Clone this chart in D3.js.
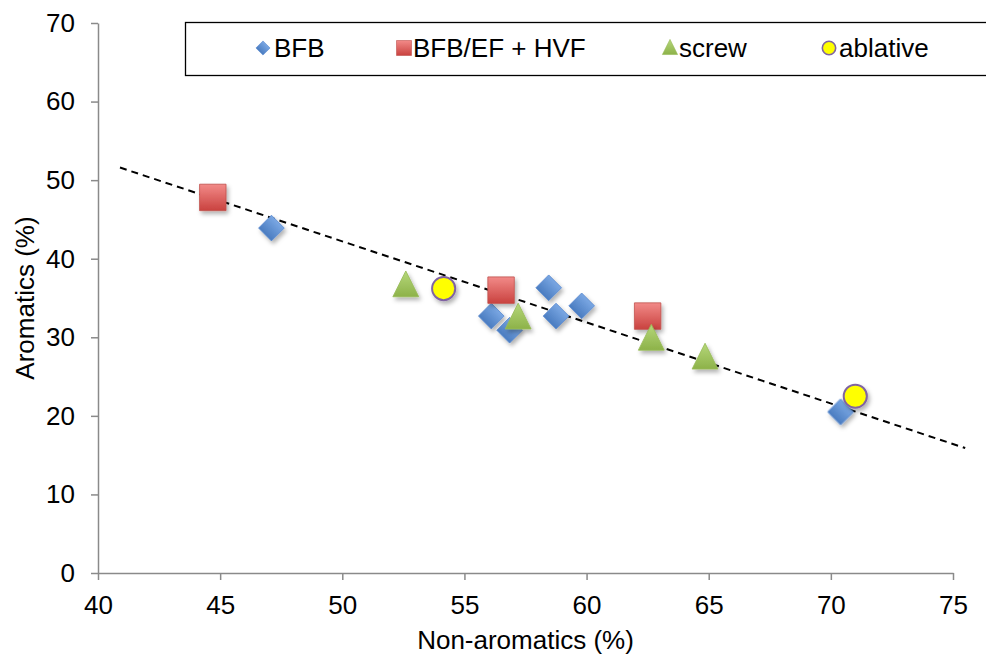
<!DOCTYPE html>
<html>
<head>
<meta charset="utf-8">
<script src="https://cdn.jsdelivr.net/npm/d3@7/dist/d3.min.js"></script>
<style>
  html, body { margin: 0; padding: 0; background: #fff; }
  svg { display: block; font-family: "Liberation Sans", Arial, sans-serif; }
</style>
</head>
<body>
<svg id="chart" width="986" height="656"></svg>
<script>
// Sample series: non-aromatics (%) vs aromatics (%)
const bfbX = [47.1, 56.1, 56.85, 58.45, 58.75, 59.8, 70.4];
const bfbY = [43.9, 32.7, 30.9, 36.3, 32.7, 34.0, 20.5];
const hvfX = [44.7, 56.5, 62.5];
const hvfY = [47.8, 36.0, 32.7];
const screwX = [52.6, 57.2, 62.65, 64.85];
const screwY = [36.8, 32.7, 30.0, 27.6];
const ablativeX = [54.15, 71.0];
const ablativeY = [36.2, 22.5];
// Linear trend line end points
const trendX = [40.9, 75.5];
const trendY = [51.6, 15.9];

const xTicks = [40, 45, 50, 55, 60, 65, 70, 75];
const yTicks = [0, 10, 20, 30, 40, 50, 60, 70];
const seriesNames = ["BFB", "BFB/EF + HVF", "screw", "ablative"];

const svg = d3.select("#chart");
const plotLeft = 98, plotRight = 953, plotTop = 23, plotBottom = 573;
const fontSize = "26px";

const x = d3.scaleLinear().domain([40, 75]).range([plotLeft, plotRight]);
const y = d3.scaleLinear().domain([0, 70]).range([plotBottom, plotTop]);

const defs = svg.append("defs");
const shadow = defs.append("filter").attr("id", "shadow")
  .attr("x", "-50%").attr("y", "-50%").attr("width", "200%").attr("height", "200%");
shadow.append("feDropShadow").attr("dx", 2).attr("dy", 3)
  .attr("stdDeviation", 2).attr("flood-color", "#000").attr("flood-opacity", 0.3);

function grad(id, c1, c2) {
  const g = defs.append("linearGradient").attr("id", id)
    .attr("x1", 0).attr("y1", 0).attr("x2", 0).attr("y2", 1);
  g.append("stop").attr("offset", "0%").attr("stop-color", c1);
  g.append("stop").attr("offset", "100%").attr("stop-color", c2);
}
grad("gBlue", "#7aa7e3", "#4a7cc0");
grad("gRed", "#f28a88", "#c9423f");
grad("gGreen", "#b5d77a", "#8db249");

// Axes
const xAxis = d3.axisBottom(x).tickValues(xTicks).tickSize(7).tickSizeOuter(0).tickPadding(16);
const yAxis = d3.axisLeft(y).tickValues(yTicks).tickSize(7).tickSizeOuter(0).tickPadding(16);

const gx = svg.append("g").attr("transform", `translate(0,${plotBottom})`).call(xAxis);
const gy = svg.append("g").attr("transform", `translate(${plotLeft},0)`).call(yAxis);

[gx, gy].forEach(g => {
  g.select(".domain").attr("stroke", "#8a8a8a").attr("stroke-width", 1.5);
  g.selectAll(".tick line").attr("stroke", "#8a8a8a").attr("stroke-width", 1.5);
  g.selectAll(".tick text").attr("fill", "#000").style("font-size", fontSize)
    .style("font-family", "'Liberation Sans', Arial, sans-serif");
});

// Axis titles
svg.append("text").attr("x", (plotLeft + plotRight) / 2).attr("y", 649)
  .attr("text-anchor", "middle").style("font-size", fontSize).text("Non-aromatics (%)");
svg.append("text").attr("transform", `translate(34,${(plotTop + plotBottom) / 2}) rotate(-90)`)
  .attr("text-anchor", "middle").style("font-size", fontSize).text("Aromatics (%)");

// Trend line
svg.append("line")
  .attr("x1", x(trendX[0])).attr("y1", y(trendY[0]))
  .attr("x2", x(trendX[1])).attr("y2", y(trendY[1]))
  .attr("stroke", "#000").attr("stroke-width", 2).attr("stroke-dasharray", "7,5");

// Marker shapes; triangles are stretched a little taller than equilateral
const triArea = 290, triStretch = 1.15;
const triHalf = Math.sqrt(triArea / (Math.sqrt(3) * 3)); // d3 triangle centroid offset unit
const triShift = triHalf / 2 * triStretch; // moves the bounding-box centre onto the point

const sym = {
  diamond: d3.symbol().type(d3.symbolSquare).size(330),
  square: d3.symbol().type(d3.symbolSquare).size(700),
  triangle: d3.symbol().type(d3.symbolTriangle).size(triArea),
  circle: d3.symbol().type(d3.symbolCircle).size(420)
};

function drawSeries(xs, ys, kind) {
  const g = svg.append("g").attr("filter", "url(#shadow)");
  xs.forEach((xv, i) => {
    const cx = x(xv), cy = y(ys[i]);
    if (kind === "diamond") {
      g.append("path").attr("d", sym.diamond())
        .attr("transform", `translate(${cx},${cy}) rotate(45)`)
        .attr("fill", "url(#gBlue)").attr("stroke", "#5b8ad0").attr("stroke-width", 0.8);
    } else if (kind === "square") {
      g.append("path").attr("d", sym.square())
        .attr("transform", `translate(${cx},${cy})`)
        .attr("fill", "url(#gRed)").attr("stroke", "#c0504d").attr("stroke-width", 0.8);
    } else if (kind === "triangle") {
      g.append("path").attr("d", sym.triangle())
        .attr("transform", `translate(${cx},${cy + triShift}) scale(1,${triStretch})`)
        .attr("fill", "url(#gGreen)").attr("stroke", "#98bb58").attr("stroke-width", 0.8);
    } else {
      g.append("path").attr("d", sym.circle())
        .attr("transform", `translate(${cx},${cy})`)
        .attr("fill", "#ffff00").attr("stroke", "#8064a2").attr("stroke-width", 2);
    }
  });
}

drawSeries(bfbX, bfbY, "diamond");
drawSeries(hvfX, hvfY, "square");
drawSeries(screwX, screwY, "triangle");
drawSeries(ablativeX, ablativeY, "circle");

// Legend
svg.append("rect").attr("x", 185.5).attr("y", 22.5).attr("width", 820).attr("height", 53)
  .attr("fill", "#fff").attr("stroke", "#000").attr("stroke-width", 1.3);

const legendItems = [
  { name: seriesNames[0], kind: "diamond", mx: 263, tx: 274 },
  { name: seriesNames[1], kind: "square", mx: 404, tx: 413 },
  { name: seriesNames[2], kind: "triangle", mx: 670, tx: 679 },
  { name: seriesNames[3], kind: "circle", mx: 829, tx: 839 }
];
const ly = 48;
legendItems.forEach(it => {
  if (it.kind === "diamond") {
    svg.append("path").attr("d", d3.symbol().type(d3.symbolSquare).size(100)())
      .attr("transform", `translate(${it.mx},${ly}) rotate(45)`)
      .attr("fill", "url(#gBlue)").attr("stroke", "#5b8ad0").attr("stroke-width", 0.6);
  } else if (it.kind === "square") {
    svg.append("path").attr("d", d3.symbol().type(d3.symbolSquare).size(225)())
      .attr("transform", `translate(${it.mx},${ly})`)
      .attr("fill", "url(#gRed)").attr("stroke", "#c0504d").attr("stroke-width", 0.6);
  } else if (it.kind === "triangle") {
    svg.append("path").attr("d", d3.symbol().type(d3.symbolTriangle).size(100)())
      .attr("transform", `translate(${it.mx},${ly + 1.5}) scale(1,1.15)`)
      .attr("fill", "url(#gGreen)").attr("stroke", "#98bb58").attr("stroke-width", 0.6);
  } else {
    svg.append("path").attr("d", d3.symbol().type(d3.symbolCircle).size(140)())
      .attr("transform", `translate(${it.mx},${ly})`)
      .attr("fill", "#ffff00").attr("stroke", "#8064a2").attr("stroke-width", 1.6);
  }
  svg.append("text").attr("x", it.tx).attr("y", ly + 9)
    .style("font-size", fontSize).text(it.name);
});
</script>
</body>
</html>
